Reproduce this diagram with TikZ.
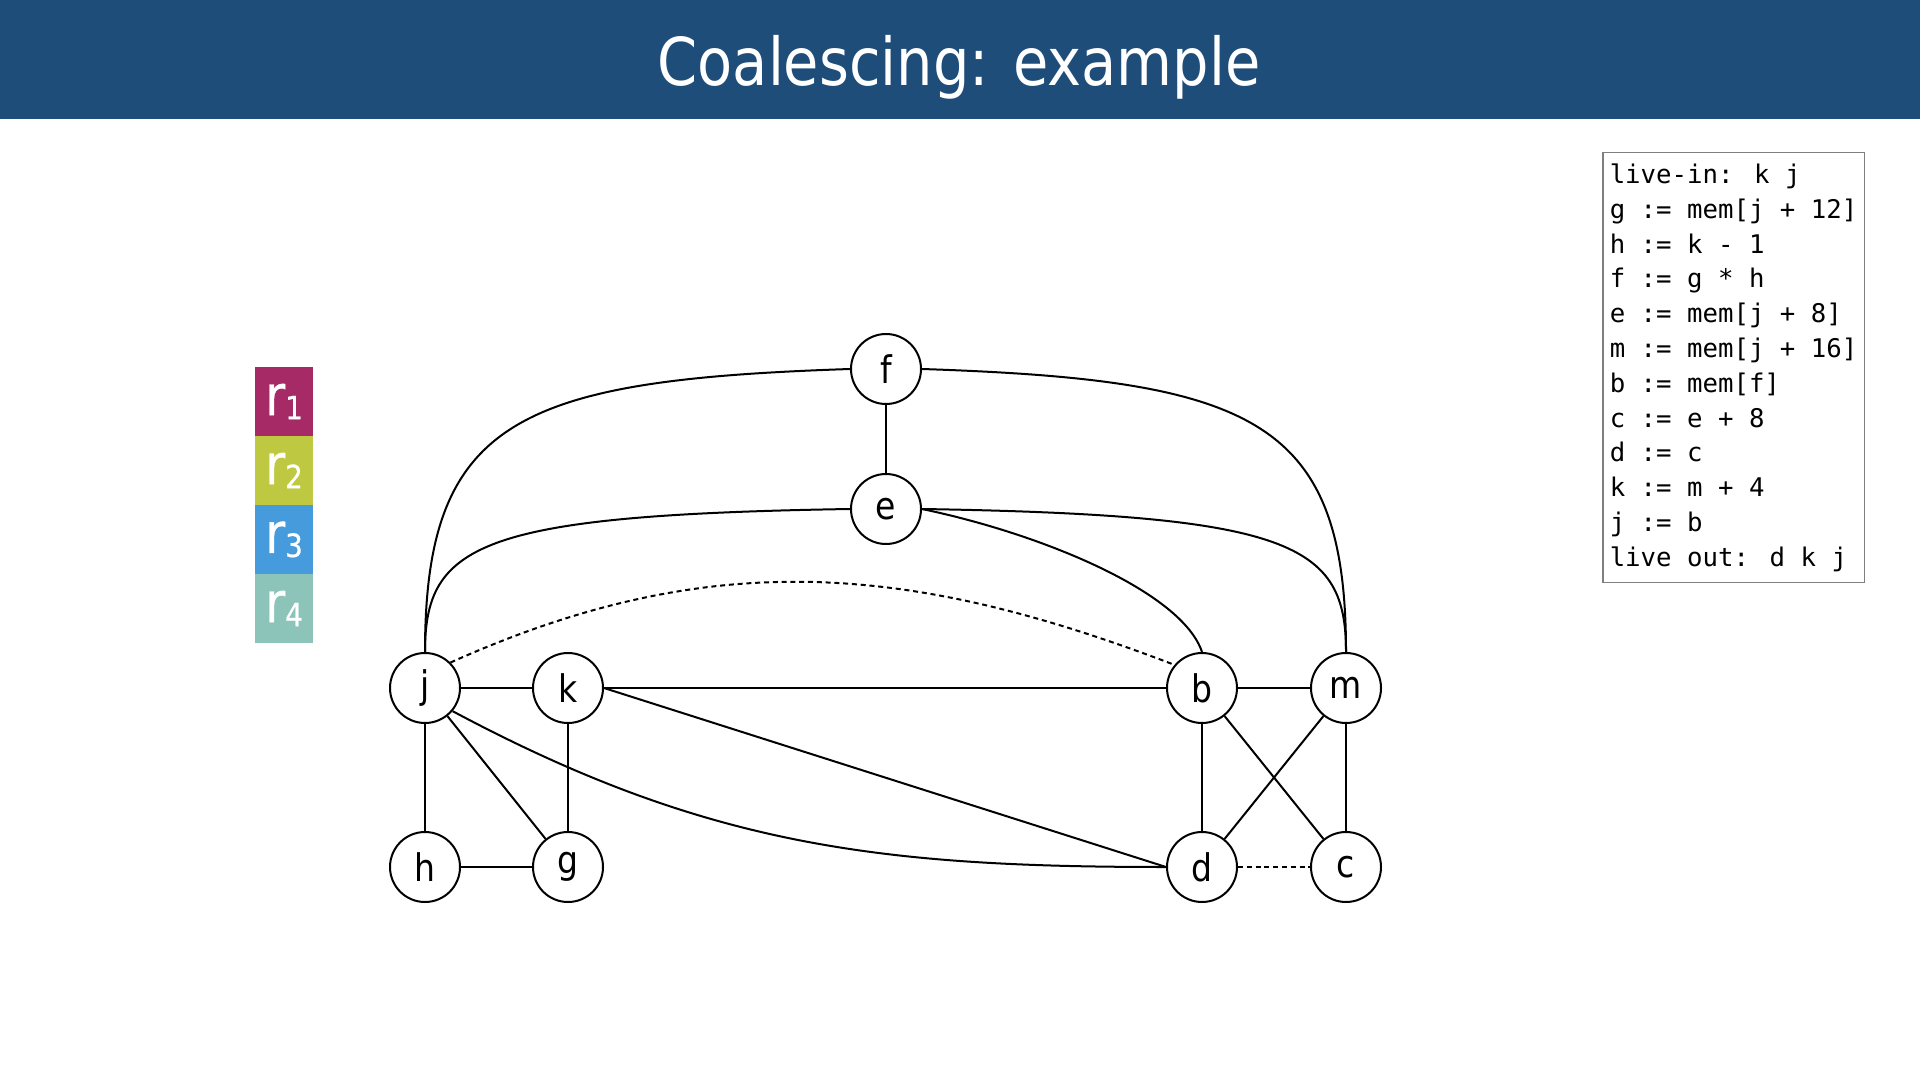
\documentclass[tikz,border=0pt]{standalone}
\usepackage{fontspec}
\setmainfont{DejaVu Sans}
\newfontfamily\titlefont[FakeStretch=0.87]{DejaVu Sans}
\newfontfamily\regfont[FakeStretch=0.87,FakeBold=0.6]{DejaVu Sans}
\newfontfamily\codefont{DejaVu Sans Mono}
\usepackage{xcolor}
\definecolor{titleblue}{HTML}{1F4D7A}
\definecolor{rone}{HTML}{A52A66}
\definecolor{rtwo}{HTML}{BEC941}
\definecolor{rthree}{HTML}{469BDC}
\definecolor{rfour}{HTML}{8CC4B9}
\definecolor{boxgray}{HTML}{7F7F7F}
\newcommand{\regname}[1]{r{\fontsize{16}{16}\selectfont\raisebox{-2pt}{#1}}}

\begin{document}
\begin{tikzpicture}[x=0.5pt, y=-0.5pt,
        var/.style={draw, circle, line width=1pt, minimum size=35pt, inner sep=0pt,
            font=\titlefont\fontsize{19}{19}\selectfont},
        edge/.style={line width=1pt},
        coalesce/.style={line width=1pt, dash pattern=on 2.5pt off 1.9pt},
        regbox/.style={minimum width=29pt, minimum height=34.5pt, inner sep=0pt, text=white,
            font=\regfont\fontsize{28}{28}\selectfont}]
        \useasboundingbox (0,0) rectangle (1920,1080);
        \fill[white] (0,0) rectangle (1920,1080);

        % Title bar
        \fill[titleblue] (0,0) rectangle (1920,119);
        \node[anchor=base, text=white, font=\titlefont\fontsize{33}{33}\selectfont] (title) at (959,86) {Coalescing: example};

        % Registers
        \node[regbox, fill=rone] (r1) at (284,401.5) {\regname{1}};
        \node[regbox, fill=rtwo] (r2) at (284,470.5) {\regname{2}};
        \node[regbox, fill=rthree] (r3) at (284,539.5) {\regname{3}};
        \node[regbox, fill=rfour] (r4) at (284,608.5) {\regname{4}};

        % Interference graph
        \node[var] (f) at (886,369) {f};
        \node[var] (e) at (886,509) {e};
        \node[var] (j) at (425,688) {j};
        \node[var] (k) at (568,688) {k};
        \node[var] (b) at (1202,688) {b};
        \node[var] (m) at (1346,688) {m};
        \node[var] (h) at (425,867) {h};
        \node[var] (g) at (568,867) {g};
        \node[var] (d) at (1202,867) {d};
        \node[var] (c) at (1346,867) {c};

        \draw[edge] (f) -- (e);
        \draw[edge] (j) -- (k);
        \draw[edge] (k) -- (b);
        \draw[edge] (b) -- (m);
        \draw[edge] (j) -- (h);
        \draw[edge] (k) -- (g);
        \draw[edge] (h) -- (g);
        \draw[edge] (j) -- (g);
        \draw[edge] (b) -- (d);
        \draw[edge] (m) -- (c);
        \draw[edge] (b) -- (c);
        \draw[edge] (m) -- (d);
        \draw[edge] (k.east) -- (d.west);
        \draw[coalesce] (d) -- (c);

        % Curved edges
        \draw[edge] (j.north) .. controls +(0,-233) and +(-331,11) .. (f.west);
        \draw[edge] (f.east) .. controls +(331,11) and +(0,-233) .. (m.north);
        \draw[edge] (j.north) .. controls +(0,-108) and +(-371,6) .. (e.west);
        \draw[edge] (e.east) .. controls +(371,6) and +(0,-108) .. (m.north);
        \draw[edge] (e.east) .. controls +(120,25) and +(-20,-60) .. (b.north);
        \draw[edge] (j.-40) .. controls +(253,135) and +(-287,0) .. (d.west);
        \draw[coalesce] (j.45) .. controls +(261,-117) and +(-264,-101) .. (b.140);

        % Code
        \node[draw=boxgray, line width=0.75pt, anchor=north west, align=left, inner xsep=3.5pt, inner ysep=5.5pt,
            font=\codefont\fontsize{12.85}{17.4}\selectfont] (code) at (1602,152)
            {live-in: k j\\g := mem[j + 12]\\h := k - 1\\f := g * h\\e := mem[j + 8]\\m := mem[j + 16]\\b := mem[f]\\c := e + 8\\d := c\\k := m + 4\\j := b\\live out: d k j};
    \end{tikzpicture}
\end{document}
